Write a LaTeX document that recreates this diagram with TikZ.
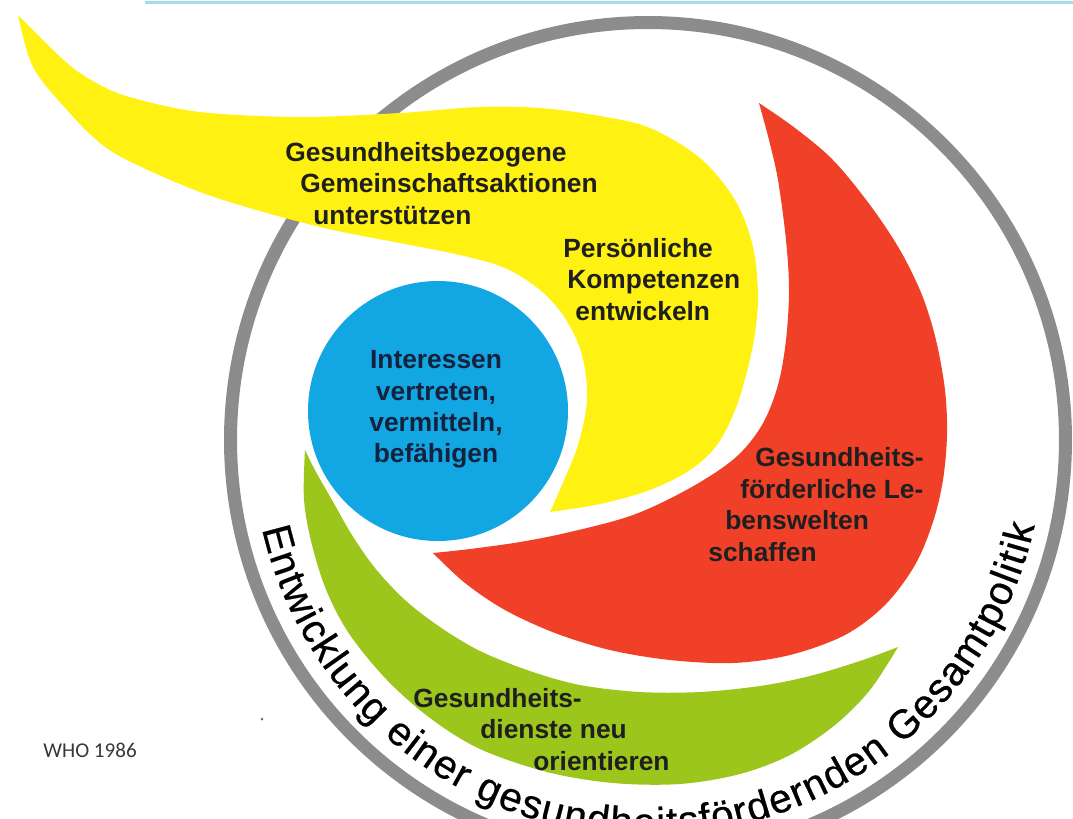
\documentclass[tikz,border=0pt]{standalone}
\usepackage{fontspec}
\usetikzlibrary{decorations.text}
\newfontfamily\lblfam{Liberation Sans}
\newfontfamily\ringfam[FakeBold=0.6]{Liberation Sans}
\newfontfamily\whofam{Carlito}
\definecolor{ringgray}{HTML}{8C8C8C}
\definecolor{flameyellow}{HTML}{FFF212}
\definecolor{flamered}{HTML}{F04128}
\definecolor{flamegreen}{HTML}{9DC61C}
\definecolor{coreblue}{HTML}{12A7E3}
\definecolor{topline}{HTML}{A6DBEE}
\definecolor{navytext}{HTML}{15213D}
\tikzset{
        lbl/.style={font=\lblfam\bfseries\fontsize{15pt}{17.9pt}\selectfont, align=left, inner sep=0pt, text=black!88},
        petal/.style={smooth, tension=0.55}
}

\begin{document}
\begin{tikzpicture}[x=0.02cm, y=-0.02cm]
        \useasboundingbox (0,0) rectangle (1073,819);
        \clip (0,0) rectangle (1073,819);
        \coordinate (ringc) at (648,440);
        \draw[topline, line width=0.06cm] (145,2) -- (1073,2);
        \draw[ringgray, line width=0.26cm] (ringc) circle[radius=417.5];
        \fill[flameyellow] plot[petal] coordinates {(18,15) (67,63) (100,85) (133,98) (200,112) (300,117) (400,113) (479,107) (540,108) (600,116) (650,128) (700,158) (735,200) (753,247) (758,300) (752,350) (737,405) (717,445) (690,470) (650,490) (600,504) (550,512)}
              -- plot[petal] coordinates {(550,512) (562,485) (578,445) (587,400) (582,355) (565,318) (540,290) (505,268) (460,255) (400,243) (333,230) (267,213) (200,192) (133,163) (100,143) (67,110) (33,67) (18,15)} -- cycle;
        \fill[flamered] plot[petal] coordinates {(759,103) (795,128) (833,160) (870,205) (900,250) (922,295) (936,340) (945,390) (947,435) (943,480) (933,522) (915,565) (885,605) (845,635) (790,655) (733,663) (670,660) (610,650) (555,633) (505,610) (465,583) (433,553)}
              -- plot[petal] coordinates {(433,553) (470,549) (520,542) (570,532) (633,515) (690,488) (735,458) (762,425) (778,385) (786,340) (789,290) (786,240) (778,180) (769,140) (759,103)} -- cycle;
        \fill[flamegreen] plot[petal] coordinates {(305,450) (304,500) (312,545) (327,592) (350,635) (387,680) (430,718) (480,749) (547,772) (613,783) (680,784) (740,774) (790,755) (835,725) (870,690) (898,647)}
              -- plot[petal] coordinates {(898,647) (860,661) (810,676) (760,686) (700,692) (640,692) (580,685) (530,671) (480,651) (440,627) (405,600) (375,568) (352,535) (332,500) (316,472) (305,450)} -- cycle;
        \fill[coreblue] (438,411) circle[radius=130];
        \fill[black!55] (262,719) circle[radius=1.5];
        \node[lbl, anchor=west] (comm) at (285,183.5) {Gesundheitsbezogene\\\hspace*{0.3cm}Gemeinschaftsaktionen\\\hspace*{0.56cm}unterstützen};
        \node[lbl, anchor=west] (skills) at (563,279.5) {Persönliche\\\hspace*{0.08cm}Kompetenzen\\\hspace*{0.24cm}entwickeln};
        \node[lbl, align=center, text=navytext] (advocate) at (436,409.5) {Interessen\\vertreten,\\vermitteln,\\befähigen};
        \node[lbl, anchor=west] (settings) at (708,504.5) {\hspace*{0.94cm}Gesundheits-\\\hspace*{0.64cm}förderliche Le-\\\hspace*{0.34cm}benswelten\\schaffen};
        \node[lbl, anchor=west] (services) at (413,729.5) {Gesundheits-\\\hspace*{1.34cm}dienste neu\\\hspace*{2.4cm}orientieren};
        \node[font=\whofam\fontsize{12pt}{14pt}\selectfont, text=black!78, anchor=west, inner sep=0pt] (who) at (43,750) {WHO 1986};
        \path[decorate, decoration={text along path, text align={fit to path},
              text={|\ringfam\fontsize{23pt}{27pt}\selectfont|Entwicklung einer gesundheitsfördernden Gesamtpolitik}}]
              ([shift={(167:396)}]ringc) arc[start angle=167, end angle=12.5, radius=396];
\end{tikzpicture}
\end{document}
